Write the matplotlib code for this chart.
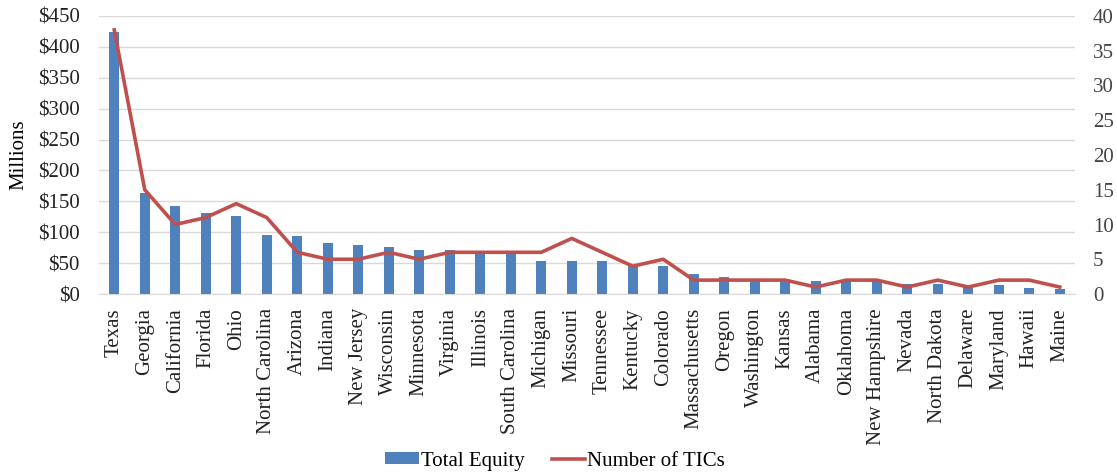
import matplotlib
matplotlib.use("Agg")
import matplotlib.pyplot as plt
import numpy as np

# Dati per stato
stati = ["Texas", "Georgia", "California", "Florida", "Ohio", "North Carolina",
         "Arizona", "Indiana", "New Jersey", "Wisconsin", "Minnesota", "Virginia",
         "Illinois", "South Carolina", "Michigan", "Missouri", "Tennessee",
         "Kentucky", "Colorado", "Massachusetts", "Oregon", "Washington", "Kansas",
         "Alabama", "Oklahoma", "New Hampshire", "Nevada", "North Dakota",
         "Delaware", "Maryland", "Hawaii", "Maine"]
equity = [424, 163, 142, 131, 126, 96, 94, 83, 79, 76, 72, 71,
          67, 67, 54, 53, 53, 45, 45, 33, 27, 23, 22,
          21, 21, 22, 16, 16, 14, 14, 10, 8]
num_tic = [38, 15, 10, 11, 13, 11, 6, 5, 5, 6, 5, 6,
           6, 6, 6, 8, 6, 4, 5, 2, 2, 2, 2,
           1, 2, 2, 1, 2, 1, 2, 2, 1]

plt.rcParams["font.family"] = "Liberation Serif"
plt.rcParams["font.size"] = 15

blu = "#4F81BD"
rosso = "#C0504D"
griglia = "#D9D9D9"

fig = plt.figure(figsize=(11.17, 4.73), dpi=100)
ax = fig.add_axes([99 / 1117, 1 - 294 / 473, 976 / 1117, 278 / 473])
x = np.arange(len(stati))

# barre: equity totale (asse sinistro)
barre = ax.bar(x, equity, width=0.32, color=blu, label="Total Equity", zorder=2)
ax.set_ylim(0, 450)
ax.set_yticks(range(0, 451, 50))
ax.set_yticklabels(["$%d" % v for v in range(0, 451, 50)])
ax.set_xlim(-0.5, len(stati) - 0.5)
ax.set_xticks(x)
ax.set_xticklabels(stati, rotation=90)
ax.grid(axis="y", color=griglia, linewidth=1, zorder=0)
ax.set_axisbelow(True)
ax.tick_params(length=0, colors="#222222")
ax.tick_params(axis="y", pad=14)
ax.tick_params(axis="x", pad=10)
for s in ["top", "left", "right"]:
    ax.spines[s].set_visible(False)
ax.spines["bottom"].set_color(griglia)
ax.set_ylabel("Millions", labelpad=7)

# linea: numero di TIC (asse destro)
ax2 = ax.twinx()
linea, = ax2.plot(x, num_tic, color=rosso, linewidth=2.6, label="Number of TICs", zorder=3)
ax2.set_ylim(0, 40)
ax2.set_yticks(range(0, 41, 5))
ax2.tick_params(length=0, pad=13, colors="#444444")
for s in ["top", "left", "right", "bottom"]:
    ax2.spines[s].set_visible(False)

fig.legend([barre, linea], ["Total Equity", "Number of TICs"], loc="lower center",
           bbox_to_anchor=(0.497, -0.035), ncol=2, frameon=False, handlelength=1.6,
           handleheight=0.5, columnspacing=1.3, handletextpad=0.1)

plt.savefig("out.png", dpi=100)
